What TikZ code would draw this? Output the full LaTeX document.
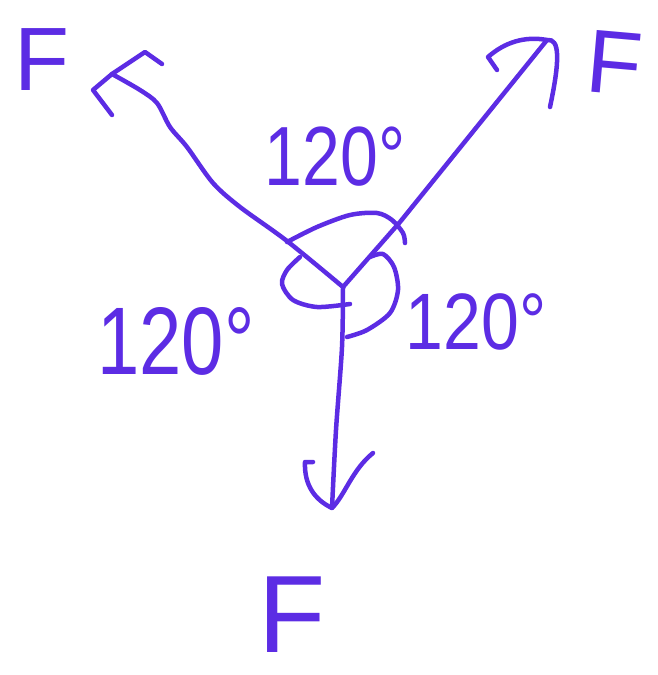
\documentclass[tikz,border=0pt]{standalone}
\usepackage{fontspec}
\setmainfont{Liberation Sans}
\begin{document}
\begin{tikzpicture}[x=1pt,y=-1pt,
  ink/.style={draw=penc,line width=4.5pt,line cap=round,line join=round},
  lbl/.style={text=penc,inner sep=0pt,text height=58pt,text depth=0pt,font=\fontsize{80}{80}\selectfont},
  flbl/.style={text=penc,inner sep=0pt,text height=65pt,text depth=0pt,font=\fontsize{90}{90}\selectfont}]
\definecolor{penc}{RGB}{92,44,228}
\useasboundingbox (0,0) rectangle (657,675);
\coordinate (O) at (343,287);
\coordinate (A) at (112,74);
\coordinate (B) at (547,40);
\coordinate (C) at (332,508);
% shafts
\draw[ink] plot[smooth,tension=0.5] coordinates {(O) (287,241) (240,207) (213,183) (187,147) (170,127) (157,103) (140,90) (A)};
\draw[ink] (O) -- (400,222) -- (B);
\draw[ink] plot[smooth] coordinates {(O) (342,347) (336,430) (C)};
% arrowheads
\draw[ink] (112,115) -- (93,90) -- (A) -- (145,52) -- (162,64);
\draw[ink] (497,70) -- (488,57) .. controls (505,42) and (525,36) .. (B) .. controls (560,38) and (560,60) .. (550,107);
\draw[ink] (313,462) -- (305,462) .. controls (304,485) and (315,500) .. (C) .. controls (345,495) and (352,470) .. (373,453);
% angle arcs
\draw[ink] plot[smooth] coordinates {(287,242) (317,227) (350,215) (377,213) (392,220) (403,233) (405,243)};
\draw[ink] plot[smooth] coordinates {(300,257) (287,270) (282,284) (293,300) (317,307) (350,304)};
\draw[ink] plot[smooth] coordinates {(370,257) (383,254) (394,267) (398,290) (390,313) (367,330) (347,337)};
% labels
\node[lbl,xscale=0.85,yscale=1.05] (t1) at (335,155) {120°};
\node[lbl,xscale=0.95,yscale=1.2] (t2) at (176,340) {120°};
\node[lbl,xscale=0.85] (t3) at (476,320) {120°};
\node[flbl] (f1) at (42,58) {F};
\node[flbl,rotate=-5] (f2) at (615,62) {F};
\node[text=penc,inner sep=0pt,text depth=0pt,font=\fontsize{110}{110}\selectfont,anchor=base] (f3) at (292,652) {F};
\end{tikzpicture}
\end{document}
